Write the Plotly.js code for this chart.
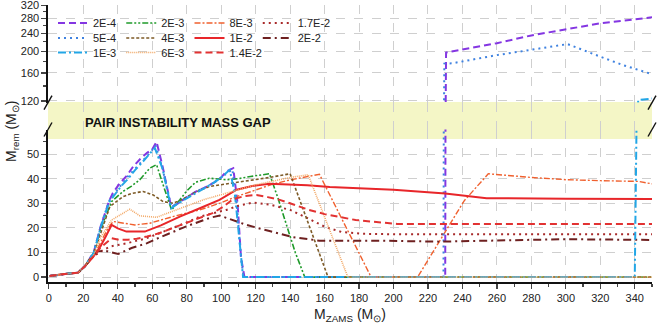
<!DOCTYPE html>
<html><head><meta charset="utf-8">
<script src="https://cdn.plot.ly/plotly-3.0.1.min.js"></script>
<style>html,body{margin:0;padding:0;background:#fff}#chart{width:660px;height:324px}</style>
</head><body><div id="chart"></div>
<script>
// ---------------- data ----------------
const x_2e4 = [0.5,8,17,21,26,30,35,37,41,45,49,53,57,60,62.5,66,71,75,80,86,91,96,100,103,107,109.5,111.5,113.5,150,200,230,230.5,260,280,300,320,350];
const y_2e4 = [0.4,1.2,1.8,4.5,10,20.5,31,34,38,41,45,48,50.5,52,55,45,28.5,30,32.5,35,36.6,38.5,40.5,43,44.3,30,8,0,0,0,0,197,217,235,250,266,283];

const x_5e4 = [0.5,8,17,21,26,30,35,38,42,46,50,54,58,62,66,71,75,80,86,91,96,100,104,106.5,109,111.5,113,150,200,229,229.5,234,260,281,301,320,333,350];
const y_5e4 = [0.4,1.2,1.8,4.5,10,20.5,31,34,37.5,41,44,47,50,53.5,44,28.5,30,32.5,35,36.5,38.5,40.5,42.5,43.8,30,8,0,0,0,0,176,176.5,192,204,215,189,173.5,158];

const x_1e3 = [0.5,8,17,21,26,30,35,38,42,46,50,54,58,61.5,66,71,75,80,86,91,96,100,105,107.9,110.8,112.7,150,200,250,300,340,342,350];
const y_1e3 = [0.4,1.2,1.8,4.5,9.8,20,30.5,33.5,37,40,43.5,46.5,49.5,52.5,44,28,30,32,34.5,36.5,38.5,40.5,43.6,34,13.7,0,0,0,0,0,0,121,123];

const x_2e3 = [0.5,8,17,21,26,30,36.4,43,48,52.8,58.6,62.5,67,71.2,76,80,85,93,103,110,117,128,133,138,143,148.5,200,350];
const y_2e3 = [0.4,1.2,1.8,4.5,9.8,19.5,30.7,34.8,37,39.6,44.3,45.7,36,27.3,31.4,35,38.5,40.2,39.6,40,40.9,42,32,20.5,10,0,0,0];

const x_4e3 = [0.5,8,17,21,26,30,35.4,43,48,54.7,60.5,66.3,72,76,85,93,105,115,128,140,151,162,200,350];
const y_4e3 = [0.4,1.2,1.8,4.5,9.5,18,28.7,32.7,34,34.8,33.4,30.7,30,31,34.5,36.8,38,39,40.5,42,21,0,0,0];

const x_6e3 = [0.5,8,17,21,26,30,36.4,42,47,52.8,62.5,71.2,80,90,100,110,120,130,140,150.5,173.5,200,350];
const y_6e3 = [0.4,1.2,1.8,4.5,9,16,23.2,25.5,27.6,24.9,24.3,26.6,29,31.5,33.5,35.5,37.5,39,40.5,41.6,0,0,0];

const x_8e3 = [0.5,8,17,21,26,30,34,37.3,43,49.9,58.6,72,87.6,99,110,120,130,140,150,157,187,214,241,255,280,300,320,342,350];
const y_8e3 = [0.4,1.2,1.8,4.5,8.5,14,19.5,22.6,22,21.2,21.9,24.6,27.3,30,33,35.5,37.8,39.5,41,41.8,0,0,31,42,40.5,39.6,39.2,38.9,37.9];

const x_1e2 = [0.5,8,17,21,26,30,33,36.4,40,45,50,55.7,65,76,87.6,99,109,118,128,150,163,200,230,254,300,350];
const y_1e2 = [0.4,1.2,1.8,4.5,8.5,12.5,16.5,21.2,19.8,18.5,18.5,18.5,21,24.6,28,31.4,35.5,37,37.9,37.3,36.6,35.5,34,32.1,31.8,31.7];

const x_14e2 = [0.5,8,17,21,26,30,36.4,41,46,51,57,64,72,80,88,95,101,107,114,120.5,127,134,142,151,160,167,178,190,202,240,300,350];
const y_14e2 = [0.4,1.2,1.8,4.5,8.5,12,15.8,15.1,15.2,15.6,16.5,17.8,20,22.1,24,26,28.5,31.7,33,33.4,32.5,31.4,29.5,27.3,25.6,24.6,23.2,22.4,21.6,21.6,21.6,21.6];

const x_17e2 = [0.5,8,17,21,26,31.5,36,45,56.7,64,72,80,87.6,95,103,110,118.5,128,140,150,160,170,182,202,350];
const y_17e2 = [0.4,1.2,1.8,4.5,8.5,11,12.5,13.7,15.8,17.8,19.9,22.2,24.6,26,27.3,29,30.3,29.5,27.3,24,20.5,18.3,17.6,17.4,17.4];

const x_2e2 = [0.5,8,17,21,25,28.6,34,40.2,48,56.7,64,72,80,87.6,94,99.2,105,114.7,128,141.7,157,192,227,260,298,350];
const y_2e2 = [0.4,1.2,1.8,4.5,8,10.5,10.5,9.4,11.8,13.7,16,18.5,20.7,22.6,24.2,25,23.5,21.2,18.7,16.2,14.8,14.8,14.4,14.8,15.4,15.1];

const xTicks = [0,20,40,60,80,100,120,140,160,180,200,220,240,260,280,300,320,340];
const yLowTicks = [0,10,20,30,40,50];
const yLowMinor = [5,15,25,35,45,55];
const yUpTicks = [120,160,200,240,280,320];
const yUpMinor = [140,180,220,260,300];

// ---------------- layout helpers ----------------
const W = 660, H = 324, ML = 48, MR = 8, MT = 5, MB = 42;
const PH = H - MT - MB, PW = W - ML - MR;
const py = p => (H - MB - p) / PH;   // pixel row -> paper y
const px = p => (p - ML) / PW;       // pixel col -> paper x
const FONT = 'Liberation Sans, Arial, Helvetica, sans-serif';
const LOW_RANGE = [-2, 60];
const UP_RANGE = [Math.log10(118), Math.log10(321)];
const lowDom = [0, py(129.5)];
const upDom = [py(102.6), 1];

const series = [
  {name:'2E-4',  x:x_2e4,  y:y_2e4,  color:'#8436e2', dash:'7px,4px',            width:2,   lg:'legend'},
  {name:'2E-3',  x:x_2e3,  y:y_2e3,  color:'#1f9a2a', dash:'6px,2px,2px,2px,2px,2px', width:1.6, lg:'legend'},
  {name:'8E-3',  x:x_8e3,  y:y_8e3,  color:'#f0602e', dash:'6px,2px,2px,2px',    width:1.4, lg:'legend'},
  {name:'1.7E-2',x:x_17e2, y:y_17e2, color:'#a82a2a', dash:'2px,4px',            width:2,   lg:'legend'},
  {name:'5E-4',  x:x_5e4,  y:y_5e4,  color:'#3f82e0', dash:'2px,4px',            width:2,   lg:'legend2'},
  {name:'4E-3',  x:x_4e3,  y:y_4e3,  color:'#7d5a26', dash:'3px,2px',            width:1.6, lg:'legend2'},
  {name:'1E-2',  x:x_1e2,  y:y_1e2,  color:'#e8262a', dash:'solid',              width:2,   lg:'legend2'},
  {name:'2E-2',  x:x_2e2,  y:y_2e2,  color:'#6e2020', dash:'8px,4px,2px,4px',    width:2,   lg:'legend2'},
  {name:'1E-3',  x:x_1e3,  y:y_1e3,  color:'#22a6e6', dash:'8px,3px,2px,3px',    width:2,   lg:'legend3'},
  {name:'6E-3',  x:x_6e3,  y:y_6e3,  color:'#f2a866', dash:'1px,1px',            width:1.6, lg:'legend3'},
  {name:'1.4E-2',x:x_14e2, y:y_14e2, color:'#e23232', dash:'7px,4px',            width:2,   lg:'legend3'}
];

const traces = [];
series.forEach(s => {
  const line = {color:s.color, dash:s.dash, width:s.width};
  traces.push({type:'scatter', mode:'lines', name:s.name, x:s.x, y:s.y,
    xaxis:'x', yaxis:'y', legend:s.lg, line:line, hoverinfo:'skip'});
  if (Math.max(...s.y) > LOW_RANGE[1]) {
    traces.push({type:'scatter', mode:'lines', name:s.name, x:s.x,
      y:s.y.map(v => Math.max(v, LOW_RANGE[1])),
      xaxis:'x', yaxis:'y2', showlegend:false, line:line, hoverinfo:'skip'});
  }
});
// empty subplot spanning the axis break, so the vertical grid continues there
traces.push({type:'scatter', mode:'lines', x:[null], y:[null], xaxis:'x', yaxis:'y5', showlegend:false, hoverinfo:'skip'});

const grid = {showgrid:true, gridcolor:'#cfcfcf', griddash:'dash', gridwidth:1};
const axLine = {showline:true, linecolor:'#111', linewidth:1.6, zeroline:false};
const tickF = {size:11, color:'#222', family:FONT};

const legendBase = {orientation:'h', xanchor:'left', yanchor:'middle', bgcolor:'rgba(0,0,0,0)',
  font:{size:11, color:'#222', family:FONT}, itemwidth:30, borderwidth:0,
  x:px(53), tracegroupgap:0};

const layout = {
  width:W, height:H, margin:{l:ML, r:MR, t:MT, b:MB},
  paper_bgcolor:'#fff', plot_bgcolor:'rgba(0,0,0,0)',
  font:{family:FONT, color:'#222'},
  xaxis: Object.assign({range:[-0.5,350], tickvals:xTicks, ticks:'outside', ticklen:5, tickwidth:1.2,
    tickfont:tickF, anchor:'y',
    minor:{dtick:10, tick0:0, ticks:'outside', ticklen:3, showgrid:false},
    title:{text:'M<sub>ZAMS</sub> (M<sub>⊙</sub>)', font:{size:14, family:FONT, color:'#222'}, standoff:6}}, grid, axLine),
  xaxis2: Object.assign({overlaying:'x', side:'top', anchor:'y2', range:[-0.5,350], tickvals:xTicks,
    ticks:'inside', ticklen:5, tickwidth:1.2, showticklabels:false, showgrid:false,
    minor:{dtick:10, tick0:0, ticks:'inside', ticklen:3}}, axLine),
  yaxis: Object.assign({domain:lowDom, range:LOW_RANGE, tickvals:yLowTicks, ticks:'outside', ticklen:5, tickwidth:1.2,
    tickfont:tickF, anchor:'x',
    minor:{tickvals:yLowMinor, ticks:'outside', ticklen:3, showgrid:false}}, grid, axLine),
  yaxis2: Object.assign({domain:upDom, type:'log', range:UP_RANGE, tickvals:yUpTicks, ticktext:yUpTicks.map(String),
    ticks:'outside', ticklen:5, tickwidth:1.2, tickfont:tickF, anchor:'x', ticklabeloverflow:'allow',
    minor:{tickvals:yUpMinor, ticks:'outside', ticklen:3, showgrid:false}}, grid, axLine),
  yaxis3: Object.assign({overlaying:'y', side:'right', anchor:'x', range:LOW_RANGE, tickvals:yLowTicks, ticks:'inside', ticklen:5,
    tickwidth:1.2, showticklabels:false, showgrid:false,
    minor:{tickvals:yLowMinor, ticks:'inside', ticklen:3}}, axLine),
  yaxis4: Object.assign({overlaying:'y2', side:'right', anchor:'x', type:'log', range:UP_RANGE, tickvals:yUpTicks, ticks:'inside', ticklen:5,
    tickwidth:1.2, showticklabels:false, showgrid:false,
    minor:{tickvals:yUpMinor, ticks:'inside', ticklen:3}}, axLine),
  yaxis5: {domain:[lowDom[1], upDom[0]], range:[0,1], anchor:'x', showgrid:false, zeroline:false, showline:false,
    showticklabels:false, ticks:''},
  legend:  Object.assign({}, legendBase, {y:py(23)}),
  legend2: Object.assign({}, legendBase, {y:py(38)}),
  legend3: Object.assign({}, legendBase, {y:py(52.5)}),
  shapes: [
    {type:'rect', xref:'paper', yref:'paper', x0:0, x1:1, y0:py(139), y1:py(102), fillcolor:'#f4f6c6', line:{width:0}, layer:'below'}
  ],
  annotations: [
    {text:'<b>PAIR INSTABILITY MASS GAP</b>', xref:'paper', yref:'paper', x:px(178), y:py(122),
      xanchor:'center', yanchor:'middle', showarrow:false, font:{size:13, family:FONT, color:'#111'}},
    {text:'M<sub>rem</sub> (M<sub>⊙</sub>)', xref:'paper', yref:'paper', x:px(12), y:py(132), textangle:-90,
      xanchor:'center', yanchor:'middle', showarrow:false, font:{size:14, family:FONT, color:'#222'}}
  ],
  showlegend:true
};
// axis-break slashes on the left and right frame lines
[0,1].forEach(xa => [upDom[0], lowDom[1]].forEach(ya => {
  layout.shapes.push({type:'line', xref:'paper', yref:'paper', xsizemode:'pixel', ysizemode:'pixel',
    xanchor:xa, yanchor:ya, x0:-4, x1:4, y0:-7, y1:7, line:{color:'#111', width:1.4}});
}));

Plotly.newPlot('chart', traces, layout, {staticPlot:true, displayModeBar:false});
</script></body></html>
